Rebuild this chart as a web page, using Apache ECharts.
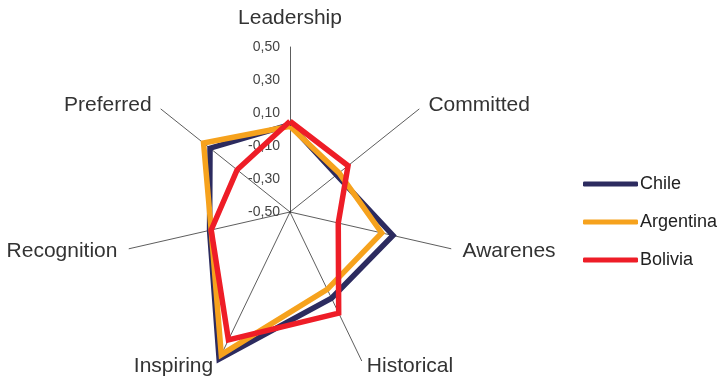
<!DOCTYPE html>
<html>
<head>
<meta charset="utf-8">
<script src="https://cdn.jsdelivr.net/npm/echarts@6/dist/echarts.min.js"></script>
<style>
html, body { margin: 0; padding: 0; background: #fff; }
#main { width: 725px; height: 386px; }
</style>
</head>
<body>
<div id="main"></div>
<script>
// axes in the order echarts lays them out (counterclockwise from the top)
var categories = ['Leadership', 'Preferred', 'Recognition', 'Inspiring', 'Historical', 'Awarenes', 'Committed'];
var chile = [0.03, 0.12, 0.00, 0.49, 0.08, 0.14, -0.14];
var argentina = [0.02, 0.17, -0.01, 0.46, 0.02, 0.07, -0.12];
var bolivia = [0.05, -0.09, -0.01, 0.36, 0.18, -0.20, -0.05];
var seriesNames = ['Chile', 'Argentina', 'Bolivia'];
var colors = ['#2c2b5f', '#f6a21d', '#ee1d27'];

var indicator = categories.map(function (name, i) {
	var ind = { name: name, min: -0.5, max: 0.5 };
	if (i == 0) {
		ind.axisLabel = { show: true };
	}
	return ind;
});

var nameFont = { fontFamily: 'Liberation Sans', fontSize: 21, color: '#333' };

var option = {
	animation: false,
	color: colors,
	legend: {
		orient: 'vertical',
		left: 578,
		top: 169,
		itemWidth: 55,
		itemHeight: 5,
		itemGap: 18,
		icon: 'roundRect',
		data: seriesNames,
		textStyle: {
			fontFamily: 'Liberation Sans',
			fontSize: 18,
			lineHeight: 20,
			color: '#222',
			padding: [0, 0, 0, -3]
		}
	},
	radar: {
		center: [290, 212],
		radius: 165,
		startAngle: 90,
		splitNumber: 5,
		shape: 'polygon',
		indicator: indicator,
		nameGap: 12,
		axisName: {
			fontFamily: 'Liberation Sans',
			fontSize: 21,
			color: '#333',
			verticalAlign: 'middle',
			formatter: function (name) {
				if (name == 'Leadership') {
					return '{top|' + name + '}';
				}
				if (name == 'Committed' || name == 'Preferred') {
					return '{down|' + name + '}';
				}
				if (name == 'Historical' || name == 'Inspiring') {
					return '{up|' + name + '}';
				}
				return name;
			},
			rich: {
				top: Object.assign({ padding: [0, 0, 34, 0] }, nameFont),
				down: Object.assign({ padding: [8, 0, 0, 0] }, nameFont),
				up: Object.assign({ padding: [0, 0, 10, 0] }, nameFont)
			}
		},
		axisLine: {
			lineStyle: { color: '#333', width: 0.8 }
		},
		axisTick: { show: false },
		axisLabel: {
			show: false,
			fontFamily: 'Liberation Sans',
			fontSize: 14,
			color: '#444',
			margin: 10,
			formatter: function (v) {
				return v.toFixed(2).replace('.', ',');
			}
		},
		splitLine: { show: false },
		splitArea: { show: false }
	},
	series: [{
		type: 'radar',
		symbol: 'none',
		lineStyle: { width: 5.5, join: 'miter' },
		data: [
			{ name: seriesNames[0], value: chile },
			{ name: seriesNames[1], value: argentina },
			{ name: seriesNames[2], value: bolivia }
		]
	}]
};

var myChart = echarts.init(document.getElementById('main'));
myChart.setOption(option, true);
</script>
</body>
</html>
